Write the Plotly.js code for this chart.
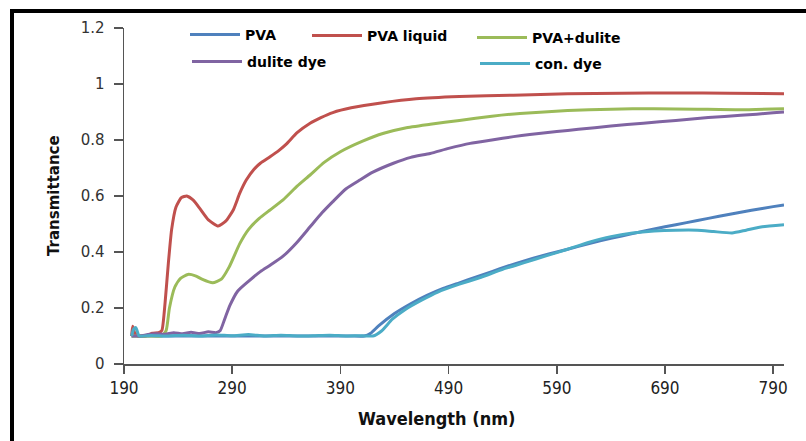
<!DOCTYPE html>
<html><head><meta charset="utf-8">
<script src="https://cdn.plot.ly/plotly-3.0.1.min.js"></script>
<style>
html,body{margin:0;padding:0;background:#fff;}
#wrap{position:relative;width:806px;height:441px;overflow:hidden;}
#chart{width:806px;height:441px;}
#frame{position:absolute;left:10px;top:9px;width:900px;height:600px;border-left:4px solid #000;border-top:4px solid #000;pointer-events:none;}
</style>
</head><body>
<div id="wrap"><div id="chart"></div><div id="frame"></div></div>
<script>
// Wavelength (nm) and transmittance
const seriesNames = ["PVA", "PVA liquid", "PVA+dulite", "dulite dye", "con. dye"];

const wlPVA = [197,205,220,240,260,280,300,320,340,360,380,400,412,418,425,440,455,470,485,500,515,530,545,560,575,590,610,630,650,670,690,710,730,750,770,790,800];
const tPVA  = [0.10,0.10,0.10,0.10,0.10,0.10,0.10,0.10,0.10,0.10,0.10,0.10,0.10,0.11,0.135,0.18,0.215,0.245,0.27,0.29,0.31,0.33,0.35,0.368,0.385,0.40,0.42,0.44,0.457,0.474,0.49,0.505,0.52,0.535,0.549,0.562,0.568];

const wlLiq = [197,198,200,203,210,216,222,225,228,231,234,238,243,248,254,260,268,277,284,291,297,303,310,316,325,333,340,350,362,372,383,400,429,460,500,550,600,650,700,750,800];
const tLiq  = [0.10,0.135,0.11,0.10,0.10,0.11,0.112,0.12,0.22,0.36,0.48,0.56,0.594,0.60,0.585,0.556,0.515,0.493,0.51,0.55,0.61,0.657,0.695,0.717,0.74,0.762,0.785,0.826,0.86,0.88,0.898,0.915,0.933,0.947,0.955,0.96,0.965,0.967,0.968,0.967,0.965];

const wlMix = [197,205,215,225,229,232,237,242,249,256,262,272,280,287,297,305,315,325,337,350,362,375,390,410,430,450,473,500,530,556,600,640,680,720,760,800];
const tMix  = [0.10,0.10,0.10,0.10,0.12,0.2,0.275,0.305,0.32,0.315,0.303,0.29,0.303,0.345,0.43,0.48,0.52,0.55,0.586,0.635,0.675,0.72,0.758,0.795,0.824,0.843,0.856,0.87,0.885,0.895,0.905,0.91,0.912,0.91,0.908,0.912];

const wlDul = [197,205,212,220,228,236,244,252,260,268,275,279,283,288,295,305,316,326,337,350,362,373,383,395,408,420,439,455,473,490,510,530,550,565,590,610,640,670,700,730,760,790,800];
const tDul  = [0.10,0.10,0.105,0.108,0.106,0.112,0.108,0.113,0.109,0.115,0.112,0.12,0.16,0.21,0.26,0.295,0.33,0.355,0.385,0.435,0.49,0.54,0.58,0.625,0.657,0.685,0.717,0.738,0.752,0.77,0.788,0.80,0.812,0.82,0.83,0.838,0.85,0.86,0.87,0.88,0.888,0.897,0.90];

const wlCon = [197,199,201,204,215,230,245,260,275,290,305,320,335,350,365,380,395,410,420,428,438,450,465,480,500,520,540,560,580,600,620,640,660,680,700,720,735,752,765,780,800];
const tCon  = [0.10,0.125,0.13,0.10,0.102,0.10,0.103,0.10,0.104,0.101,0.105,0.10,0.103,0.10,0.101,0.103,0.10,0.101,0.10,0.118,0.16,0.195,0.228,0.257,0.285,0.31,0.338,0.362,0.386,0.41,0.435,0.455,0.468,0.475,0.478,0.478,0.473,0.468,0.478,0.49,0.497];

const xTicks = [190,290,390,490,590,690,790];
const yTicks = [0,0.2,0.4,0.6,0.8,1,1.2];

const colors = ["#4F81BD","#C0504D","#9BBB59","#8064A2","#4BACC6"];
const xs = [wlPVA, wlLiq, wlMix, wlDul, wlCon];
const ys = [tPVA, tLiq, tMix, tDul, tCon];
const legendIds = ["legend","legend2","legend3","legend4","legend5"];

const traces = seriesNames.map((n,i)=>({
  type:"scatter", mode:"lines", name:n, x:xs[i], y:ys[i],
  line:{color:colors[i], width:3, shape:"spline", smoothing:0.5},
  legend:legendIds[i], showlegend:true
}));

// plot area: left 124, right 784, top 28, bottom 364
const L=124, R=784, T=28, B=364;
const px = v => (v-L)/(R-L);
const py = v => (B-v)/(B-T);
const legFont = {family:"DejaVu Sans", size:14, color:"#000", weight:"bold"};
function leg(x, y){
  return {x:px(x), y:py(y), xanchor:"left", yanchor:"middle", bgcolor:"rgba(0,0,0,0)",
    borderwidth:0, font:legFont, itemwidth:50, orientation:"v"};
}

const layout = {
  width:806, height:441,
  margin:{l:L, r:806-R, t:T, b:441-B},
  paper_bgcolor:"#fff", plot_bgcolor:"#fff",
  showlegend:true,
  legend:leg(185,35), legend2:leg(307,36), legend3:leg(472,38), legend4:leg(187,62), legend5:leg(475,64),
  xaxis:{range:[190,800], tickvals:xTicks, ticktext:xTicks.map(String), showgrid:false, zeroline:false,
    showline:true, linecolor:"#555", linewidth:1.5, ticks:"outside", ticklen:8, tickcolor:"#555", tickwidth:1.5,
    tickfont:{family:"DejaVu Sans Condensed", size:17, color:"#222"}},
  yaxis:{range:[0,1.2], tickvals:yTicks, ticktext:yTicks.map(String), showgrid:false, zeroline:false,
    showline:true, linecolor:"#555", linewidth:1.5, ticks:"outside", ticklen:9, tickcolor:"#555", tickwidth:1.5,
    tickfont:{family:"DejaVu Sans", size:15, color:"#333"}, ticklabelstandoff:6},
  annotations:[
    {text:"Wavelength (nm)", xref:"paper", yref:"paper", x:px(436), y:py(418), showarrow:false,
     xanchor:"center", yanchor:"middle", font:{family:"DejaVu Sans Condensed", size:18, color:"#111", weight:"bold"}},
    {text:"Transmittance", xref:"paper", yref:"paper", x:px(54), y:py(196), showarrow:false, textangle:-90,
     xanchor:"center", yanchor:"middle", font:{family:"DejaVu Sans", size:15, color:"#111", weight:"bold"}}
  ]
};

Plotly.newPlot("chart", traces, layout, {displayModeBar:false, staticPlot:true});
</script>
</body></html>
